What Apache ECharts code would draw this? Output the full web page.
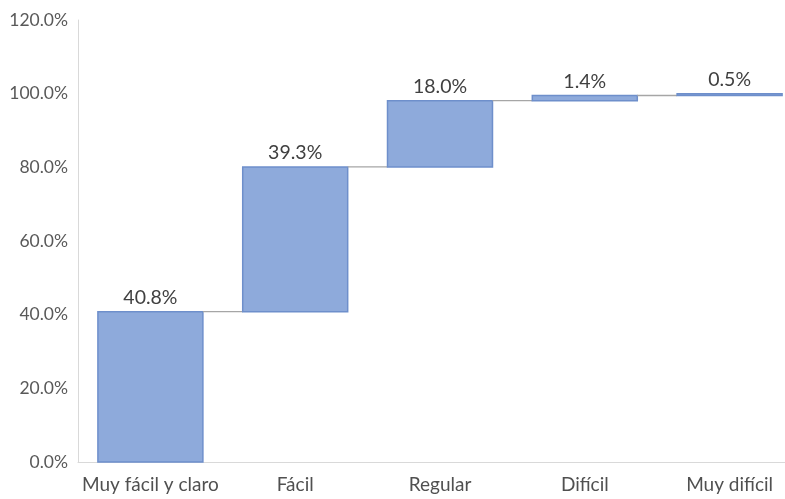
<!DOCTYPE html>
<html>
<head>
<meta charset="utf-8">
<script src="https://cdn.jsdelivr.net/npm/echarts@6/dist/echarts.min.js"></script>
<style>
  html, body { margin: 0; padding: 0; background: #ffffff; overflow: hidden; }
  /* plot runs past the right edge of the window, like the cropped original */
  #chart { width: 802px; height: 499px; }
</style>
</head>
<body>
<div id="chart"></div>
<script>
// Response categories and their share of answers (%)
const categories = ['Muy fácil y claro', 'Fácil', 'Regular', 'Difícil', 'Muy difícil'];
const shares = [40.8, 39.3, 18.0, 1.4, 0.5];
const yTicks = { min: 0, max: 120, interval: 20 };

// Waterfall rows: [index, start, end, share]
const rows = [];
let running = 0;
shares.forEach((v, i) => {
  rows.push([i, running, running + v, v]);
  running += v;
});

const FONT = 'Lato, "Open Sans", sans-serif';
const FILL = '#8eaadb';
const EDGE = '#6e8fcb';

const chart = echarts.init(document.getElementById('chart'));
chart.setOption({
  animation: false,
  grid: { left: 78, right: 0, top: 20, bottom: 37 },
  xAxis: {
    type: 'category',
    data: categories,
    axisLine: { lineStyle: { color: '#d9d9d9', width: 1 } },
    axisTick: { show: false },
    axisLabel: { interval: 0, color: '#505050', fontSize: 19, fontFamily: FONT, margin: 13 }
  },
  yAxis: {
    type: 'value',
    min: yTicks.min,
    max: yTicks.max,
    interval: yTicks.interval,
    splitLine: { show: false },
    axisLine: { show: true, lineStyle: { color: '#d9d9d9', width: 1 } },
    axisTick: { show: false },
    axisLabel: {
      color: '#595959', fontSize: 17.5, fontFamily: FONT, margin: 10,
      formatter: v => v.toFixed(1) + '%'
    }
  },
  series: [{
    type: 'custom',
    data: rows,
    encode: { x: 0, y: [1, 2] },
    renderItem: (params, api) => {
      const idx = api.value(0);
      const start = api.value(1);
      const end = api.value(2);
      const share = api.value(3);
      const bottomPt = api.coord([idx, start]);
      const topPt = api.coord([idx, end]);
      const band = api.size([1, 0])[0];
      const w = band * 0.725;
      const x0 = topPt[0] - w / 2;
      const children = [{
        type: 'rect',
        shape: { x: x0, y: topPt[1], width: w, height: Math.max(bottomPt[1] - topPt[1], 1) },
        style: { fill: FILL, stroke: EDGE, lineWidth: 1.5 }
      }, {
        type: 'text',
        style: {
          text: share.toFixed(1) + '%',
          x: topPt[0],
          y: topPt[1] - 4,
          align: 'center',
          verticalAlign: 'bottom',
          fill: '#404040',
          font: '19.5px ' + FONT
        }
      }];
      if (idx < shares.length - 1) {
        const nextX = api.coord([idx + 1, end])[0] - w / 2;
        children.push({
          type: 'line',
          shape: { x1: x0 + w, y1: topPt[1], x2: nextX, y2: topPt[1] },
          style: { stroke: '#a6a6a6', lineWidth: 1.3 }
        });
      }
      return { type: 'group', children };
    }
  }]
});
</script>
</body>
</html>
